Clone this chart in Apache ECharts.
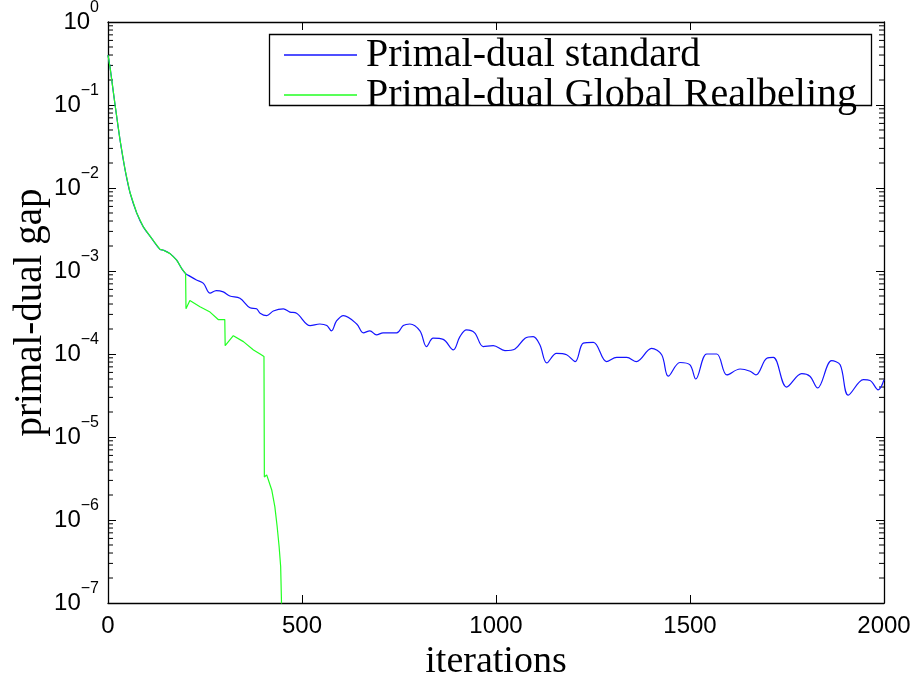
<!DOCTYPE html>
<html>
	<head>
		<meta charset="utf-8" />
		<title>primal-dual gap</title>
		<style>
			html, body {
				width: 100%;
				height: 100%;
				margin: 0;
				padding: 0;
				overflow: hidden;
				background: #fff;
			}
			#main {
				width: 100%;
				height: 100%;
			}
		</style>
	</head>
	<body>
		<div id="main"></div>
		<script src="https://cdn.jsdelivr.net/npm/echarts@6/dist/echarts.min.js"></script>
		<script>
			// both methods share the first 200 iterations
			var sharedIter = [0, 5, 11, 18, 31, 44, 57, 74, 91, 113, 134, 143, 160, 177, 190, 200];
			var sharedGap = [0.40, 0.29, 0.18, 0.102, 0.038, 0.0166, 0.0087, 0.0050, 0.0034, 0.00245, 0.00182, 0.00178, 0.00162, 0.00135, 0.00107, 0.00093];

			var stdIter = [203, 228, 246, 263, 279, 297, 314, 340, 366, 383, 392, 409, 426, 452, 469, 486,
				521, 546, 564, 576, 589, 607, 641, 658, 675, 692, 709, 744, 761, 778, 804, 821, 838, 864,
				890, 907, 924, 945, 967, 993, 1023, 1049, 1075, 1096, 1113, 1131, 1156, 1182, 1204, 1225,
				1251, 1285, 1311, 1337, 1362, 1401, 1427, 1444, 1474, 1500, 1515, 1543, 1569, 1595, 1629,
				1655, 1670, 1698, 1715, 1749, 1788, 1809, 1829, 1865, 1887, 1908, 1947, 1964, 1985, 2000];
			var stdGap = [9.1e-4, 7.8e-4, 7.1e-4, 5.4e-4, 5.8e-4, 5.6e-4, 5.0e-4, 4.7e-4, 3.6e-4, 3.5e-4, 3.1e-4, 2.9e-4, 3.3e-4, 3.5e-4, 3.2e-4, 3.1e-4,
				2.2e-4, 2.3e-4, 2.2e-4, 1.9e-4, 2.5e-4, 2.9e-4, 2.3e-4, 1.8e-4, 1.9e-4, 1.7e-4, 1.8e-4, 1.8e-4, 2.2e-4, 2.3e-4, 1.9e-4, 1.23e-4, 1.55e-4, 1.5e-4,
				1.12e-4, 1.62e-4, 1.95e-4, 1.8e-4, 1.23e-4, 1.26e-4, 1.1e-4, 1.15e-4, 1.55e-4, 1.62e-4, 1.29e-4, 7.8e-5, 1.02e-4, 9.8e-5, 8.1e-5, 1.35e-4,
				1.38e-4, 8.1e-5, 9.1e-5, 9.1e-5, 8.1e-5, 1.17e-4, 9.8e-5, 5.4e-5, 7.9e-5, 7.4e-5, 5.0e-5, 1.0e-4, 1.0e-4, 5.6e-5, 6.6e-5,
				6.2e-5, 5.6e-5, 8.9e-5, 9.1e-5, 4.0e-5, 5.8e-5, 5.4e-5, 3.9e-5, 8.3e-5, 7.4e-5, 3.2e-5, 4.9e-5, 4.8e-5, 3.7e-5, 4.9e-5];

			var relIter = [201, 211, 237, 263, 284, 301, 302, 323, 349, 375, 392, 402, 403, 409, 422, 430, 436, 441, 445, 447, 450];
			var relGap = [3.5e-4, 4.4e-4, 3.7e-4, 3.2e-4, 2.6e-4, 2.6e-4, 1.26e-4, 1.66e-4, 1.41e-4, 1.12e-4, 1.0e-4, 9.3e-5, 3.3e-6, 3.5e-6, 2.3e-6, 1.45e-6, 8.3e-7, 4.8e-7, 2.75e-7, 1.1e-7, 1e-8];

			var names = ['Primal-dual standard', 'Primal-dual Global Realbeling'];
			var xTicks = [0, 500, 1000, 1500, 2000];

			function pairs(xs, ys) {
				var out = [];
				for (var i = 0; i < xs.length; i++) {
					out.push([xs[i], ys[i]]);
				}
				return out;
			}

			var stdData = pairs(sharedIter, sharedGap).concat(pairs(stdIter, stdGap));
			var relData = pairs(sharedIter, sharedGap).concat(pairs(relIter, relGap));

			// log minor ticks 2..9 in each decade
			var minorTicks = [];
			for (var k = -7; k < 0; k++) {
				for (var m = 2; m <= 9; m++) {
					minorTicks.push([0, m * Math.pow(10, k)]);
				}
			}

			var sansFont = '"Liberation Sans", Arial, sans-serif';
			var serifFont = '"Liberation Serif", "Times New Roman", serif';

			function powLabel(v) {
				var e = Math.round(Math.log(v) / Math.LN10);
				var s = e < 0 ? '\u2212' + (-e) : '' + e;
				return '{b|10}{e|' + s + '}';
			}

			var chart = echarts.init(document.getElementById('main'), null, { renderer: 'canvas' });
			chart.setOption({
				animation: false,
				backgroundColor: '#fff',
				grid: {
					left: 108,
					right: 31,
					top: 22,
					bottom: 74,
					containLabel: false,
					outerBoundsMode: 'none',
					show: false
				},
				graphic: [{
					type: 'rect',
					z: 50,
					shape: { x: 269.5, y: 34.5, width: 602, height: 71 },
					style: { fill: '#fff', stroke: '#000', lineWidth: 1.3 }
				}],
				legend: {
					data: names,
					orient: 'vertical',
					left: 269,
					top: 34,
					z: 60,
					icon: 'rect',
					padding: [1, 4, 4, 15],
					itemGap: 0,
					itemWidth: 73,
					itemHeight: 1.4,
					textStyle: {
						fontFamily: serifFont,
						fontSize: 40,
						lineHeight: 33,
						color: '#000',
						padding: [0, 0, 0, 4]
					}
				},
				xAxis: [{
					type: 'value',
					min: 0,
					max: 2000,
					interval: 500,
					name: 'iterations',
					nameLocation: 'middle',
					nameGap: 39,
					nameTextStyle: { fontFamily: serifFont, fontSize: 38, color: '#000' },
					axisLine: { show: true, onZero: false, lineStyle: { color: '#000', width: 1.3 } },
					axisTick: { show: true, inside: true, length: 8, lineStyle: { color: '#000' } },
					axisLabel: {
						margin: 11,
						fontFamily: sansFont,
						fontSize: 24,
						color: '#000',
						formatter: function (v) { return xTicks.indexOf(v) >= 0 ? '' + v : ''; }
					},
					splitLine: { show: false }
				}, {
					type: 'value',
					position: 'top',
					min: 0,
					max: 2000,
					interval: 500,
					axisLine: { show: true, onZero: false, lineStyle: { color: '#000', width: 1.3 } },
					axisTick: { show: true, inside: true, length: 8, lineStyle: { color: '#000' } },
					axisLabel: { show: false },
					splitLine: { show: false }
				}],
				yAxis: [{
					type: 'log',
					logBase: 10,
					min: 1e-7,
					max: 1,
					interval: 1,
					splitNumber: 7,
					name: 'primal-dual gap',
					nameLocation: 'middle',
					nameGap: 58,
					nameMoveOverlap: false,
					nameTextStyle: { fontFamily: serifFont, fontSize: 39, color: '#000' },
					axisLine: { show: true, onZero: false, lineStyle: { color: '#000', width: 1.3 } },
					axisTick: { show: true, inside: true, length: 8, lineStyle: { color: '#000' } },
					axisLabel: {
						margin: 9,
						formatter: powLabel,
						rich: {
							b: { fontFamily: sansFont, fontSize: 24, color: '#000', padding: [10, 0, 10, 0], verticalAlign: 'middle' },
							e: { fontFamily: sansFont, fontSize: 16, color: '#000', verticalAlign: 'top', lineHeight: 16 }
						}
					},
					splitLine: { show: false }
				}, {
					type: 'log',
					logBase: 10,
					position: 'right',
					min: 1e-7,
					max: 1,
					interval: 1,
					splitNumber: 7,
					axisLine: { show: true, onZero: false, lineStyle: { color: '#000', width: 1.3 } },
					axisTick: { show: true, inside: true, length: 8, lineStyle: { color: '#000' } },
					axisLabel: { show: false },
					splitLine: { show: false }
				}],
				series: [{
					name: names[0],
					type: 'line',
					data: stdData,
					symbol: 'none',
					smooth: 0.35,
					clip: true,
					lineStyle: { color: '#1414ff', width: 1.2 },
					itemStyle: { color: '#1414ff' }
				}, {
					name: names[1],
					type: 'line',
					data: relData,
					symbol: 'none',
					clip: true,
					lineStyle: { color: '#22ff22', width: 1.2 },
					itemStyle: { color: '#22ff22' }
				}, {
					type: 'custom',
					silent: true,
					clip: false,
					data: minorTicks,
					renderItem: function (params, api) {
						var cs = params.coordSys;
						var y = api.coord([0, api.value(1)])[1];
						var style = { stroke: '#000', lineWidth: 1 };
						return {
							type: 'group',
							children: [
								{ type: 'line', shape: { x1: cs.x, y1: y, x2: cs.x + 5, y2: y }, style: style },
								{ type: 'line', shape: { x1: cs.x + cs.width, y1: y, x2: cs.x + cs.width - 5, y2: y }, style: style }
							]
						};
					}
				}]
			});
		</script>
	</body>
</html>
